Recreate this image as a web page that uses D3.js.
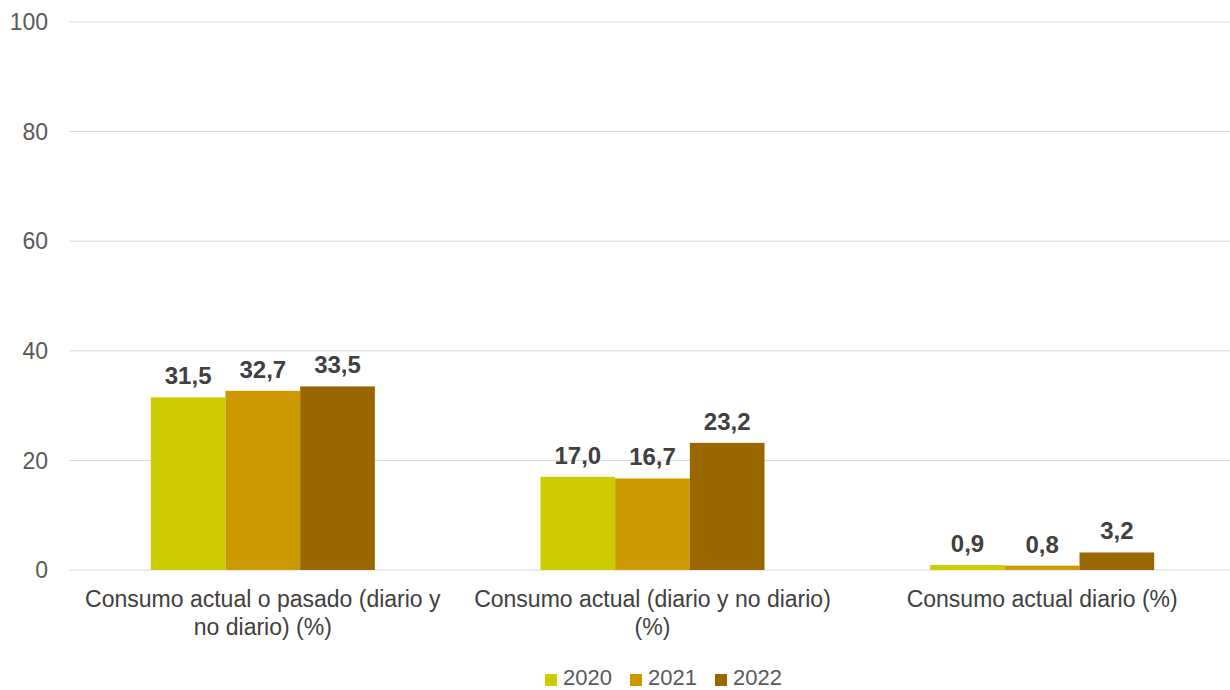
<!DOCTYPE html>
<html>
<head>
<meta charset="utf-8">
<script src="https://cdn.jsdelivr.net/npm/d3@7"></script>
<style>
  html, body { margin: 0; padding: 0; background: #fff; }
  svg { display: block; font-family: "Liberation Sans", Arial, sans-serif; }
</style>
</head>
<body>
<svg id="chart" width="1230" height="690"></svg>
<script>
// Categories and yearly series
const categories = [
  ["Consumo actual o pasado (diario y", "no diario) (%)"],
  ["Consumo actual (diario y no diario)", "(%)"],
  ["Consumo actual diario (%)"]
];
const years = ["2020", "2021", "2022"];
const values2020 = [31.5, 17.0, 0.9];
const values2021 = [32.7, 16.7, 0.8];
const values2022 = [33.5, 23.2, 3.2];
const yTicks = [0, 20, 40, 60, 80, 100];
const colors = ["#cccc00", "#cc9900", "#996600"];

const series = [values2020, values2021, values2022];
const svg = d3.select("#chart");

const plotLeft = 69, plotRight = 1230, plotTop = 22, plotBottom = 570;

// Category bands extend slightly past the visible right edge
const x0 = d3.scaleBand()
  .domain(d3.range(categories.length))
  .range([68, 1237])
  .paddingInner(0.425)
  .paddingOuter(0.2125);

const x1 = d3.scaleBand()
  .domain(d3.range(years.length))
  .range([0, x0.bandwidth()]);

const y = d3.scaleLinear().domain([0, 100]).range([plotBottom, plotTop]);

// Gridlines and tick labels
const grid = svg.append("g");
grid.selectAll("line")
  .data(yTicks)
  .join("line")
  .attr("x1", plotLeft).attr("x2", plotRight)
  .attr("y1", d => y(d)).attr("y2", d => y(d))
  .attr("stroke", "#d9d9d9").attr("stroke-width", 1);

grid.selectAll("text")
  .data(yTicks)
  .join("text")
  .attr("x", 48)
  .attr("y", d => y(d))
  .attr("dy", "0.36em")
  .attr("text-anchor", "end")
  .attr("font-size", 23)
  .attr("fill", "#595959")
  .text(d => d);

// Bars
const groups = svg.append("g").selectAll("g")
  .data(categories.map((c, i) => i))
  .join("g")
  .attr("transform", i => `translate(${x0(i)},0)`);

groups.selectAll("rect")
  .data(i => series.map((s, k) => ({ k, v: s[i] })))
  .join("rect")
  .attr("x", d => x1(d.k))
  .attr("width", x1.bandwidth())
  .attr("y", d => y(d.v))
  .attr("height", d => y(0) - y(d.v))
  .attr("fill", d => colors[d.k]);

// Value labels
const fmt = v => d3.format(".1f")(v).replace(".", ",");
groups.selectAll("text")
  .data(i => series.map((s, k) => ({ k, v: s[i] })))
  .join("text")
  .attr("x", d => x1(d.k) + x1.bandwidth() / 2)
  .attr("y", d => y(d.v) - 13)
  .attr("text-anchor", "middle")
  .attr("font-size", 24)
  .attr("font-weight", "bold")
  .attr("fill", "#404040")
  .text(d => fmt(d.v));

// Category labels
const cat = svg.append("g").selectAll("text")
  .data(categories)
  .join("text")
  .attr("x", (d, i) => x0(i) + x0.bandwidth() / 2)
  .attr("y", 607)
  .attr("text-anchor", "middle")
  .attr("font-size", 23)
  .attr("fill", "#404040");
cat.selectAll("tspan")
  .data(d => d)
  .join("tspan")
  .attr("x", function () { return d3.select(this.parentNode).attr("x"); })
  .attr("dy", (d, j) => j === 0 ? 0 : 28)
  .text(d => d);

// Legend
const legendX = [545, 630, 715];
const legend = svg.append("g").selectAll("g")
  .data(years)
  .join("g")
  .attr("transform", (d, i) => `translate(${legendX[i]},0)`);
legend.append("rect")
  .attr("x", 0).attr("y", 674)
  .attr("width", 12).attr("height", 12)
  .attr("fill", (d, i) => colors[i]);
legend.append("text")
  .attr("x", 18).attr("y", 685)
  .attr("font-size", 22)
  .attr("fill", "#595959")
  .text(d => d);
</script>
</body>
</html>
